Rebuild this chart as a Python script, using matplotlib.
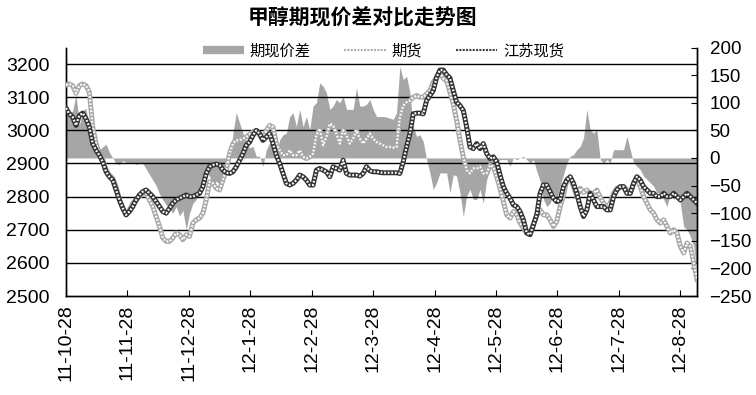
import numpy as np
import matplotlib
matplotlib.use("Agg")
import matplotlib.pyplot as plt
from matplotlib.lines import Line2D

plt.rcParams['font.family'] = ['Liberation Sans', 'Noto Sans CJK SC', 'DejaVu Sans']

# month labels (category axis, one label every ~18.4 samples)
month_labels = ["11-10-28", "11-11-28", "11-12-28", "12-1-28", "12-2-28", "12-3-28",
                "12-4-28", "12-5-28", "12-6-28", "12-7-28", "12-8-28"]
pts_per_month = 18.4

# 期货 (futures)
futures = [3137, 3140, 3135, 3112, 3135, 3140, 3135, 3115, 3010, 2960, 2930, 2910, 2880, 2865, 2855, 2830,
           2790, 2765, 2745, 2760, 2780, 2790, 2800, 2810, 2810, 2790, 2770, 2740, 2710, 2675, 2665, 2665,
           2675, 2690, 2685, 2670, 2685, 2680,
           2720, 2730, 2735, 2750, 2790, 2845, 2840, 2825, 2820, 2850, 2880, 2930, 2960, 2970, 2970, 2975,
           2980, 2988, 2995, 3000, 2985, 2970, 3000, 3015, 3010, 2960, 2940, 2925, 2925, 2940, 2925, 2925,
           2940, 2920, 2915, 2920, 2930,
           2985, 3005, 2955, 2980, 3020, 3015, 2990, 2960, 3000, 2985, 2960, 2975, 3000, 2975, 2960, 2975,
           2990, 2975, 2965, 2960, 2955, 2950, 2950, 2948, 2950, 3040, 3075, 3085, 3090, 3100, 3105, 3100,
           3100, 3110, 3120, 3145, 3160, 3175,
           3157, 3150, 3115, 3080, 3030, 2970, 2920, 2880, 2870, 2885, 2885, 2890, 2870, 2870, 2895, 2890,
           2860, 2825, 2785, 2745, 2735, 2755, 2745, 2720, 2705, 2690, 2690, 2715, 2745, 2760, 2745, 2745,
           2730, 2710, 2725, 2770, 2805,
           2850, 2857, 2830, 2800, 2825, 2813, 2820, 2810, 2810, 2820, 2798, 2780, 2770, 2780, 2810, 2825,
           2830, 2830, 2820, 2810, 2840, 2855, 2830, 2800, 2780, 2760, 2750, 2730, 2720, 2730, 2710, 2690,
           2700, 2690, 2650, 2630, 2660, 2650, 2600, 2550]

# 江苏现货 (Jiangsu spot)
spot = [3067, 3050, 3040, 3015, 3045, 3052, 3035, 3010, 2960, 2940, 2925, 2905, 2875, 2860, 2850, 2820,
        2790, 2765, 2745, 2755, 2770, 2790, 2805, 2815, 2820, 2810, 2800, 2785, 2770, 2755, 2750, 2765,
        2780, 2790, 2795, 2800, 2805, 2800,
        2800, 2805, 2810, 2830, 2870, 2890, 2895, 2898, 2895, 2880, 2872, 2870, 2875, 2890, 2910, 2930,
        2955, 2965, 2985, 3000, 2990, 2970, 2980, 2990, 2960, 2925, 2900, 2870, 2840, 2835, 2840, 2850,
        2865, 2860, 2850, 2835, 2835,
        2880, 2885, 2880, 2875, 2860, 2890, 2885, 2880, 2910, 2870, 2865, 2865, 2865, 2862, 2870, 2890,
        2878, 2875, 2875, 2873, 2872, 2872, 2872, 2872, 2872, 2870, 2905, 2950, 2990, 3050, 3052, 3052,
        3050, 3090, 3105, 3120, 3160, 3182,
        3182, 3168, 3158, 3120, 3085, 3075, 3060, 3010, 2950, 2945, 2960, 2945, 2960, 2930, 2915, 2920,
        2905, 2865, 2830, 2810, 2795, 2775, 2770, 2755, 2730, 2690, 2685, 2715, 2745, 2810, 2835, 2835,
        2815, 2795, 2785, 2790, 2830,
        2850, 2860, 2840, 2810, 2770, 2740, 2760, 2810, 2790, 2770, 2770, 2770, 2760, 2760, 2800, 2820,
        2830, 2830, 2810, 2810, 2840, 2860, 2850, 2830, 2820, 2810, 2810, 2800, 2800, 2810, 2800, 2800,
        2810, 2800, 2790, 2800, 2810, 2800, 2790, 2780]

# 期现价差 (basis, right axis)
spread = [75, 82, 85, 115, 60, 85, 90, 50, 20, 25, 15, 20, 25, 10, 0, -10, -12, -5, -8, -10, -8, -12,
          -8, -10, -20, -30, -40, -50, -65, -76, -85, -92, -100, -88, -105, -95, -130, -100,
          -82, -75, -63, -45, -27, -33, -51, -42, -48, -39, -21, -3, 45, 82, 63, 45, 30, 18, 21, 3, 3,
          -15, 15, 27, 21, 6, 33, 42, 45, 75, 82, 57, 88, 57, 75, 51, 94,
          100, 136, 130, 118, 88, 94, 106, 100, 112, 88, 88, 88, 127, 94, 94, 97, 106, 88, 75, 75, 75,
          74, 72, 70, 82, 166, 142, 148, 118, 57, 39, 42, 30, -3, -27, -57, -45, -27,
          -27, -27, -63, -30, -33, -63, -106, -69, -57, -75, -75, -57, -82, -39, -21, -15, -9, -3, -3,
          -3, -15, 0, -3, 0, 3, -3, -9, -3, -24, -42, -75, -88, -82, -63, -75, -51, -30,
          -9, 3, 6, 15, 21, 36, 88, 51, 45, 51, -3, -9, -3, -9, 15, 15, 15, 15, 39, 15, -9, -15, -21,
          -33, -39, -45, -51, -63, -63, -75, -88, -63, -75, -69, -82, -124, -130, -142, -160, -208]

x = np.arange(len(futures)) / pts_per_month

fig = plt.figure(figsize=(7.56, 3.95), dpi=100)
ax = fig.add_axes([0.0873, 0.2506, 0.8347, 0.6291])
ax2 = ax.twinx()

# area on the secondary axis, behind the lines
ax2.fill_between(x, 0, spread, color='#a6a6a6', lw=0)
ax2.set_ylim(-250, 200)
ax2.set_yticks(np.arange(-250, 201, 50))
ax2.tick_params(axis='y', direction='in', length=4, pad=9, labelsize=13.5)

ax.set_zorder(ax2.get_zorder() + 1)
ax.patch.set_visible(False)

# textured thick lines
ax.plot(x, futures, color='#a8a8a8', lw=3.6, zorder=3)
ax.plot(x, futures, color='white', lw=1.6, ls=(0, (0.8, 0.8)), zorder=3)
ax.plot(x, spot, color='#333333', lw=3.6, zorder=4)
ax.plot(x, spot, color='white', lw=1.6, ls=(0, (0.8, 0.8)), zorder=4)

ax.set_ylim(2500, 3250)
ax.set_yticks(np.arange(2500, 3201, 100))
ax.set_xlim(0, x[-1])
ax.set_xticks(np.arange(len(month_labels)))
ax.set_xticklabels(month_labels, rotation=90, fontsize=14)
ax.tick_params(axis='y', length=0, pad=12, labelsize=14)
ax.tick_params(axis='x', direction='in', length=4, pad=6)
for v in np.arange(2600, 3201, 100):
    ax.axhline(v, color='black', lw=1, zorder=2)

for a in (ax, ax2):
    a.spines['top'].set_visible(False)
    for s in ('left', 'right', 'bottom'):
        a.spines[s].set_linewidth(1)
        a.spines[s].set_color('black')

handles = [Line2D([], [], color='#a6a6a6', lw=6, solid_capstyle='butt'),
           Line2D([], [], color='#b0b0b0', lw=1.5, ls=(0, (1, 0.6))),
           Line2D([], [], color='#404040', lw=1.5, ls=(0, (1, 0.6)))]
ax.legend(handles, ["期现价差", "期货", "江苏现货"], ncol=3, loc='center',
          bbox_to_anchor=(0.503, 0.985), frameon=False,
          handlelength=2.7, handletextpad=0.4, columnspacing=2.2,
          prop={'family': ['Noto Sans CJK SC'], 'size': 11})

fig.text(0.48, 0.955, "甲醇期现价差对比走势图", ha='center', va='center', fontsize=15,
         fontweight='bold', family=['Noto Sans CJK SC'])

fig.savefig("out.png", dpi=100)
